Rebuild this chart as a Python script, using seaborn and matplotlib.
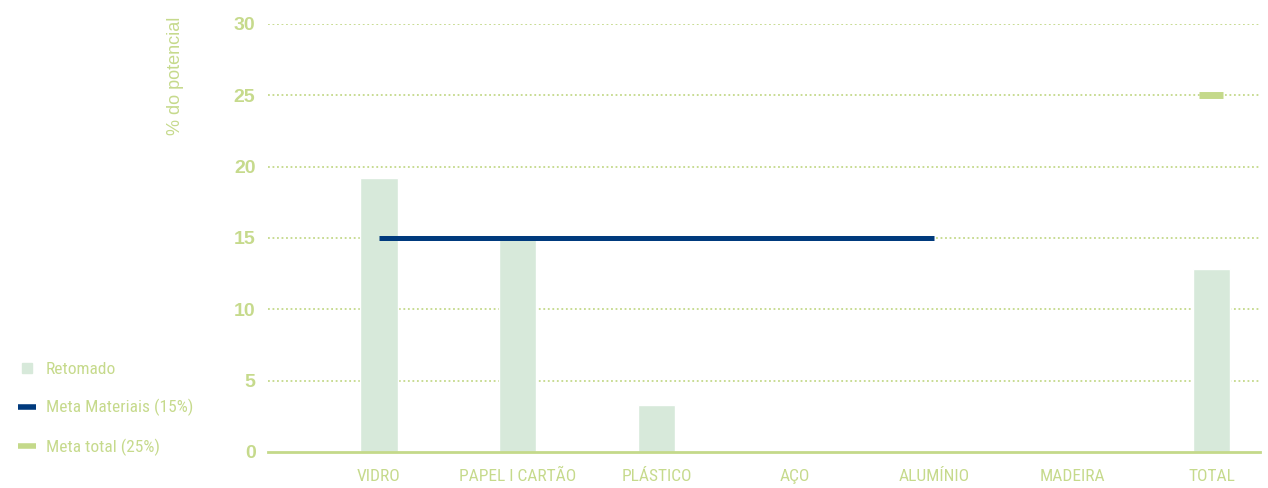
import matplotlib
matplotlib.use("Agg")
import matplotlib.pyplot as plt
from matplotlib.lines import Line2D
from matplotlib import font_manager
import seaborn as sns
import pandas as pd
import numpy as np

categories = ["VIDRO", "PAPEL I CARTÃO", "PLÁSTICO", "AÇO", "ALUMÍNIO", "MADEIRA", "TOTAL"]
retomado = [19.2, 15.0, 3.3, 0.0, 0.0, 0.0, 12.8]
meta_materiais_cats = ["VIDRO", "PAPEL I CARTÃO", "PLÁSTICO", "AÇO", "ALUMÍNIO"]
meta_materiais = [15, 15, 15, 15, 15]
meta_total_cats = ["TOTAL"]
meta_total = [25]
y_ticks = [0, 5, 10, 15, 20, 25, 30]

GREEN_TXT = "#c6da8c"
GREEN_LINE = "#c4d98a"
BAR = "#d7e9da"
NAVY = "#003a7d"

sns.set_theme(style="white")
plt.rcParams["font.family"] = ["Liberation Sans", "DejaVu Sans"]

# pick a condensed face if one is installed
names = {f.name for f in font_manager.fontManager.ttflist}
cond = None
for cand in ["Liberation Sans Narrow", "Roboto Condensed", "Open Sans Condensed", "DejaVu Sans Condensed"]:
    if cand in names:
        cond = cand
        break
cond_stretch = "normal"
if cond is None:
    has_dv_cond = any(f.name == "DejaVu Sans" and f.stretch in ("condensed", 400 - 100, "semi-condensed")
                      for f in font_manager.fontManager.ttflist)
    if has_dv_cond:
        cond = "DejaVu Sans"
        cond_stretch = "condensed"
    else:
        cond = "Liberation Sans"
cond_family = [cond, "DejaVu Sans"]

fig = plt.figure(figsize=(12.68, 4.88), dpi=100)
ax = fig.add_axes([268/1268, 1-452/488, (1260-268)/1268, (452-24)/488])

df_bar = pd.DataFrame({"cat": categories, "val": retomado})
sns.barplot(data=df_bar, x="cat", y="val", order=categories, color=BAR,
            saturation=1, width=0.267, ax=ax, label="Retomado", zorder=2)

df_mm = pd.DataFrame({"cat": meta_materiais_cats, "val": meta_materiais})
sns.lineplot(data=df_mm, x="cat", y="val", color=NAVY, linewidth=3.6,
             ax=ax, label="Meta Materiais (15%)", zorder=4, solid_capstyle="butt")

df_mt = pd.DataFrame({"cat": meta_total_cats, "val": meta_total})
sns.scatterplot(data=df_mt, x="cat", y="val", marker="_", s=300,
                color=GREEN_LINE, linewidth=5, ax=ax, label="Meta total (25%)", zorder=4)

ax.set_xlim(-0.8, 6.35)
ax.set_ylim(0, 30)
ax.set_yticks(y_ticks)
ax.set_yticklabels([str(v) for v in y_ticks])
ax.set_xlabel("")
ax.set_ylabel("")

for v in y_ticks[1:]:
    ax.axhline(v, color=GREEN_LINE, linestyle=(0, (1, 1.5)), linewidth=1.3, zorder=1)

for s in ["top", "right", "left"]:
    ax.spines[s].set_visible(False)
ax.spines["bottom"].set_color(GREEN_LINE)
ax.spines["bottom"].set_linewidth(2)
ax.spines["bottom"].set_zorder(5)

ax.tick_params(axis="y", length=0, pad=9, labelsize=14, labelcolor=GREEN_TXT)
for t in ax.get_yticklabels():
    t.set_fontweight("bold")
ax.tick_params(axis="x", length=0, pad=12, labelsize=12.5, labelcolor=GREEN_TXT)
for t in ax.get_xticklabels():
    t.set_family(cond_family)
    t.set_stretch(cond_stretch)
    t.set_fontweight("normal")

fig.text(176/1268, 1-17/488, "% do potencial", rotation=90, ha="center", va="top",
         fontsize=13, color=GREEN_TXT)

handles = [
    Line2D([], [], marker="s", linestyle="none", markersize=7, color=BAR),
    Line2D([], [], color=NAVY, linewidth=4, solid_capstyle="butt"),
    Line2D([], [], color=GREEN_LINE, linewidth=4, solid_capstyle="butt"),
]
labels = ["Retomado", "Meta Materiais (15%)", "Meta total (25%)"]
ax.legend(handles, labels, loc="lower left", bbox_to_anchor=(0.002, 0.033),
          bbox_transform=fig.transFigure, frameon=False, handlelength=1.0,
          handletextpad=0.6, labelspacing=1.3,
          prop={"family": cond_family, "stretch": cond_stretch, "size": 12.5, "weight": "normal"})
for t in ax.get_legend().get_texts():
    t.set_color(GREEN_TXT)

fig.savefig("out.png", dpi=100)
